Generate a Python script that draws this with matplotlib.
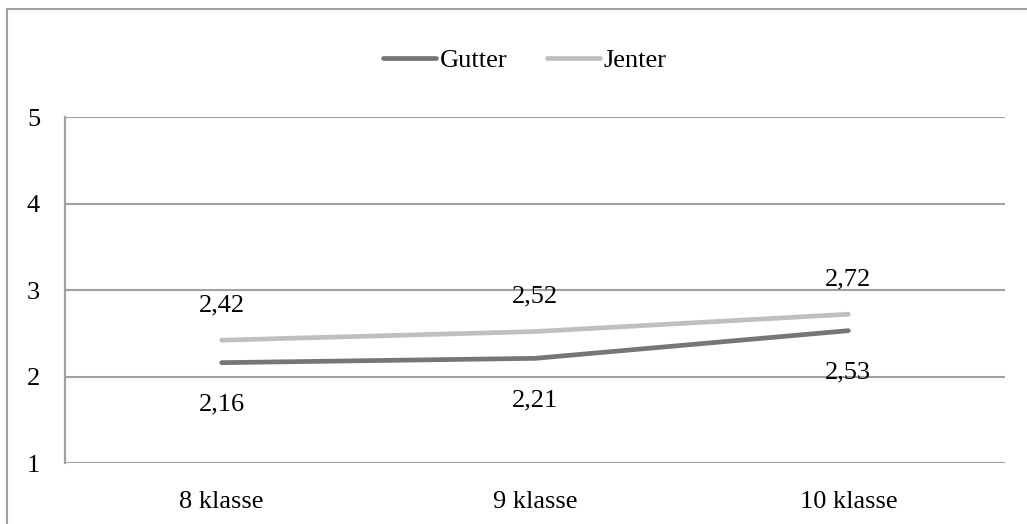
import matplotlib.pyplot as plt
from matplotlib.patches import Rectangle

klasser = ["8 klasse", "9 klasse", "10 klasse"]
gutter = [2.16, 2.21, 2.53]
jenter = [2.42, 2.52, 2.72]
gutter_labels = ["2,16", "2,21", "2,53"]
jenter_labels = ["2,42", "2,52", "2,72"]

plt.rcParams["font.family"] = ["Liberation Serif", "DejaVu Serif"]
plt.rcParams["font.size"] = 19

grid_col = "#a0a0a0"

fig = plt.figure(figsize=(10.27, 5.24), dpi=100)
ax = fig.add_axes([0.0633, 0.1164, 0.9153, 0.6603])

x = range(len(klasser))
ax.plot(x, gutter, color="#767676", lw=3.4, solid_capstyle="round", label="Gutter")
ax.plot(x, jenter, color="#bfbfbf", lw=3.4, solid_capstyle="round", label="Jenter")

for i in x:
    ax.annotate(jenter_labels[i], (i, jenter[i]), xytext=(0, 25), textcoords="offset points",
                ha="center", va="center")
    ax.annotate(gutter_labels[i], (i, gutter[i]), xytext=(0, -30), textcoords="offset points",
                ha="center", va="center")

ax.set_xlim(-0.5, 2.5)
ax.set_ylim(1, 5)
ax.set_yticks([1, 2, 3, 4, 5])
ax.set_xticks(list(x))
ax.set_xticklabels(klasser)
ax.yaxis.grid(True, color=grid_col, lw=1.5)
ax.set_axisbelow(True)
ax.tick_params(length=0)
ax.tick_params(axis="y", pad=18)
ax.tick_params(axis="x", pad=20)
for side in ["top", "right", "bottom"]:
    ax.spines[side].set_visible(False)
ax.spines["left"].set_color(grid_col)
ax.spines["left"].set_linewidth(1.6)

fig.legend(loc="center", bbox_to_anchor=(0.511, 0.885), ncol=2, frameon=False,
           handlelength=2.0, handletextpad=0.15, columnspacing=1.5)

# outer chart border
fig.patches.append(Rectangle((7 / 1027, -0.1), 1.2, 1.1 - 9 / 524, transform=fig.transFigure,
                             fill=False, edgecolor=grid_col, lw=1.5))

fig.savefig("out.png", dpi=100)
